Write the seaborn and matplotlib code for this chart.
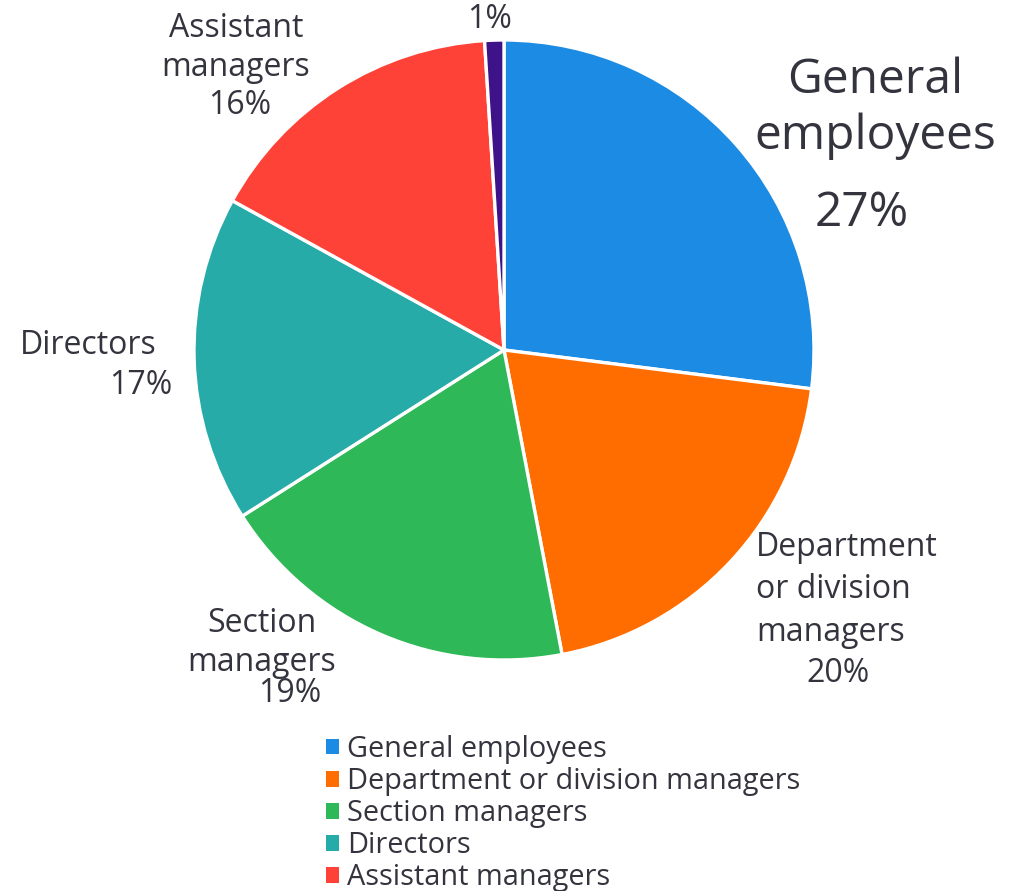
import matplotlib
matplotlib.use("Agg")
import matplotlib.pyplot as plt
from matplotlib.patches import Patch
import seaborn as sns

# Share of respondents by job position (%)
categories = [
    "General employees",
    "Department or division managers",
    "Section managers",
    "Directors",
    "Assistant managers",
    "Others",
]
shares = [27, 20, 19, 17, 16, 1]
slice_colors = ["#1b8be3", "#ff6d00", "#2eb857", "#26aba8", "#ff4238", "#3e1389"]

# Wrapped names shown next to each slice (None = show the percentage only)
wrapped_names = [
    "General\nemployees",
    "Department\nor division\nmanagers",
    "Section\nmanagers",
    "Directors",
    "Assistant\nmanagers",
    None,
]

sns.set_theme(style="white")
plt.rcParams["font.family"] = ["Open Sans", "DejaVu Sans"]

W, H = 1016, 891
fig = plt.figure(figsize=(W / 100, H / 100), dpi=100)
ax = fig.add_axes([0, 0, 1, 1])

palette = sns.color_palette(slice_colors)
cx, cy, R = 504, 350, 310


def py(y):
    # convert a top-down pixel row into the axis' bottom-up coordinate
    return H - y


wedges, _ = ax.pie(
    shares,
    colors=palette,
    startangle=90,
    counterclock=False,
    center=(cx, py(cy)),
    radius=R,
    wedgeprops=dict(edgecolor="white", linewidth=2.4),
)
ax.set_xlim(0, W)
ax.set_ylim(0, H)
ax.set_aspect("equal")
ax.axis("off")

text_color = "#34343e"
fs = 23

# (name x, name y, name ha, line spacing, pct x, pct y, font size)
label_layout = [
    (875, 108, "center", 1.22, 862, 213, 34.5),
    (756, 590, "left", 1.39, 838, 673, fs),
    (262, 643, "center", 1.22, 290, 693, fs),
    (20, 345, "left", 1.2, 172, 385, fs),
    (236, 48, "center", 1.24, 240, 105, fs),
    (None, None, None, 1.2, 490, 20, fs),
]

for name, share, (nx, ny, ha, ls, px, pyy, size) in zip(wrapped_names, shares, label_layout):
    if name is not None:
        ax.text(nx, py(ny), name, ha=ha, va="center", fontsize=size,
                color=text_color, linespacing=ls, multialignment=ha)
    pct_ha = "right" if ha == "left" and px < 300 else "center"
    ax.text(px, py(pyy), f"{share}%", ha=pct_ha, va="center", fontsize=size,
            color=text_color)

handles = [Patch(facecolor=c, edgecolor="none") for c in palette[:5]]
fig.legend(
    handles,
    categories[:5],
    loc="upper left",
    bbox_to_anchor=(326 / W, 1 - 735 / H),
    frameon=False,
    fontsize=20.8,
    labelcolor=text_color,
    handlelength=0.45,
    handleheight=0.45,
    handletextpad=0.28,
    labelspacing=0.105,
    borderpad=0,
    borderaxespad=0,
)

fig.savefig("out.png", dpi=100, facecolor="white")
